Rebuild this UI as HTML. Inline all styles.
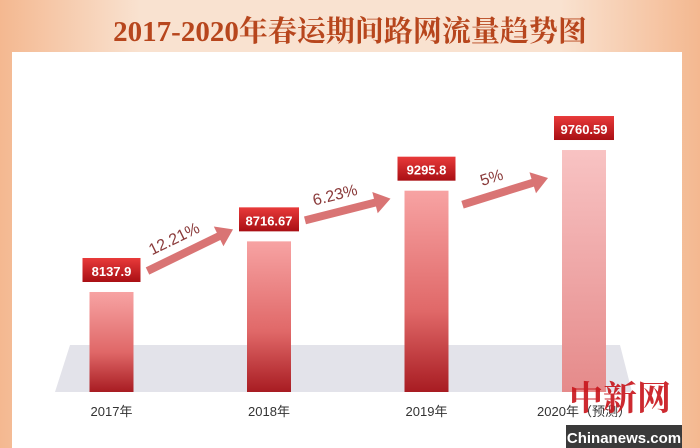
<!DOCTYPE html>
<html><head><meta charset="utf-8"><style>
body{margin:0;width:700px;height:448px;overflow:hidden;background:#f6dcc6;font-family:"Liberation Sans","Noto Sans CJK SC",sans-serif}
svg{display:block}
</style></head><body>
<svg id="chart" width="700" height="448" xmlns="http://www.w3.org/2000/svg">
<defs>
<linearGradient id="bg" x1="0" y1="0" x2="1" y2="0"><stop offset="0" stop-color="#f4b890"/><stop offset="0.2" stop-color="#f9e2d0"/><stop offset="0.8" stop-color="#f9e2d0"/><stop offset="1" stop-color="#f4b890"/></linearGradient>
<linearGradient id="barg" x1="0" y1="0" x2="0" y2="1"><stop offset="0" stop-color="#f7a3a3"/><stop offset="0.6" stop-color="#e06868"/><stop offset="1" stop-color="#a81c22"/></linearGradient>
<linearGradient id="barg2" x1="0" y1="0" x2="0" y2="1"><stop offset="0" stop-color="#f8c3c3"/><stop offset="1" stop-color="#e58a8a"/></linearGradient>
<linearGradient id="lbl" x1="0" y1="0" x2="0" y2="1"><stop offset="0" stop-color="#e83a3a"/><stop offset="1" stop-color="#a90f14"/></linearGradient>
</defs>
<rect width="700" height="448" fill="url(#bg)"/>
<rect x="12" y="52" width="670" height="396" fill="#ffffff"/>
<text x="350" y="41" text-anchor="middle" font-size="29" font-weight="bold" fill="#b7461d" font-family="'Liberation Serif','Noto Serif CJK SC',serif">2017-2020年春运期间路网流量趋势图</text>
<polygon points="70,345 620,345 632,392 55,392" fill="#e3e3ea"/>
<g id="bars"></g>
<g id="arrows"></g>
<rect x="566" y="425" width="116" height="23" fill="#3a3a3a"/>
<text x="624" y="443" text-anchor="middle" font-size="15" font-weight="bold" fill="#fff">Chinanews.com</text>
<text x="620" y="410" text-anchor="middle" font-size="34" font-weight="bold" fill="#c8141a" opacity="0.9" font-family="'Noto Serif CJK SC',serif">中新网</text>
</svg>
<script>
const categories=["2017年","2018年","2019年","2020年（预测）"];
const values=[8137.9,8716.67,9295.8,9760.59];
const valueLabels=["8137.9","8716.67","9295.8","9760.59"];
const growthLabels=["12.21%","6.23%","5%"];
const NS="http://www.w3.org/2000/svg";
const gb=document.getElementById('bars'),ga=document.getElementById('arrows');
const base=392,vmin=6995,k=0.0875;
function y(v){return base-(v-vmin)*k;}
function xc(i){return 111.5+i*157.5;}
function mk(t,a,p){const e=document.createElementNS(NS,t);for(const n in a)e.setAttribute(n,a[n]);p.appendChild(e);return e;}
values.forEach((v,i)=>{
 const cx=xc(i),top=y(v);
 const r=mk('rect',{x:cx-22,y:top,width:44,height:base-top,fill:i==3?'url(#barg2)':'url(#barg)'},gb);
 
 
 const w=valueLabels[i].length>6?60:58;
 const b=mk('rect',{x:cx-w/2,y:top-34,width:w,height:24,fill:'url(#lbl)'},gb);
 
 
 const t=mk('text',{x:cx,y:top-16,'text-anchor':'middle','font-size':13,'font-weight':'bold',fill:'#fff'},gb);
 t.textContent=valueLabels[i];
 
 
 const c=mk('text',{x:cx,y:416,'text-anchor':'middle','font-size':13,fill:'#333'},gb);
 c.textContent=categories[i];
 
 
});
for(let i=0;i<3;i++){
 const x1=xc(i)+36,x2=xc(i+1)-36;
 const y1=y(values[i])+(i==2?14:-21);
 const y2=y(values[i+1])-12+i*20;
 const deg=Math.atan2(y2-y1,x2-x1)*180/Math.PI,len=Math.hypot(x2-x1,y2-y1);
 const g=mk('g',{transform:`translate(${x1},${y1}) rotate(${deg})`},ga);
 
 
 mk('polygon',{points:`0,-4 ${len-16},-4 ${len-16},-11 ${len},0 ${len-16},11 ${len-16},4 0,4`,fill:'#d97474'},g);
 const t=mk('text',{x:len*0.4,y:-12,'text-anchor':'middle','font-size':16,fill:'#8a3a3a'},g);
 t.textContent=growthLabels[i];
 
 
}
</script>
</body></html>
